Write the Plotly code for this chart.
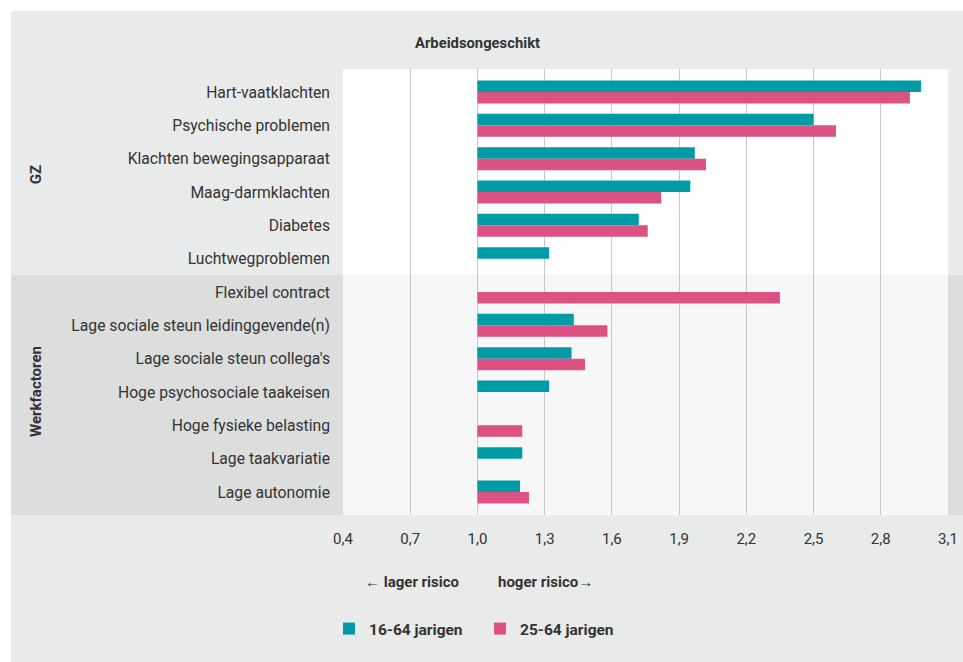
import plotly.graph_objects as go

gz_labels = [
    "Hart-vaatklachten",
    "Psychische problemen",
    "Klachten bewegingsapparaat",
    "Maag-darmklachten",
    "Diabetes",
    "Luchtwegproblemen",
]
werk_labels = [
    "Flexibel contract",
    "Lage sociale steun leidinggevende(n)",
    "Lage sociale steun collega's",
    "Hoge psychosociale taakeisen",
    "Hoge fysieke belasting",
    "Lage taakvariatie",
    "Lage autonomie",
]
categories = gz_labels + werk_labels

# odds ratios, None = not significant / not shown
risk_16_64 = [2.98, 2.50, 1.97, 1.95, 1.72, 1.32,
              None, 1.43, 1.42, 1.32, None, 1.20, 1.19]
risk_25_64 = [2.93, 2.60, 2.02, 1.82, 1.76, None,
              2.35, 1.58, 1.48, None, 1.20, None, 1.23]

tick_values = [0.4, 0.7, 1.0, 1.3, 1.6, 1.9, 2.2, 2.5, 2.8, 3.1]
series_names = ["16-64 jarigen", "25-64 jarigen"]
reference_value = 1.0

TEAL = "#009ca6"
PINK = "#dc5283"
TEXT = "#333333"
FONT = "Roboto, Arial, sans-serif"

W, H = 963, 662
L, R, T, B = 343, 15, 69, 147
PW, PH = W - L - R, H - T - B


def px_x(px):
    return (px - L) / PW


def px_y(py):
    return 1 - (py - T) / PH


def lengths(vals):
    return [None if v is None else v - reference_value for v in vals]


fig = go.Figure()
for name, vals, color in [(series_names[0], risk_16_64, TEAL), (series_names[1], risk_25_64, PINK)]:
    fig.add_trace(go.Bar(
        y=categories,
        x=lengths(vals),
        base=reference_value,
        orientation="h",
        name=name,
        marker=dict(color=color, line_width=0),
        hovertemplate="%{y}: %{customdata}<extra>" + name + "</extra>",
        customdata=vals,
    ))

pad = 0.19
y_top = -0.5 - pad
y_bottom = len(categories) - 0.5 + pad
split = len(gz_labels) - 0.5

shapes = [
    # outer grey panel
    dict(type="rect", xref="paper", yref="paper", x0=px_x(11), x1=px_x(W + 5), y0=px_y(H + 5), y1=px_y(11),
         fillcolor="#e9eaea", line_width=0, layer="below"),
    # GZ plot area
    dict(type="rect", xref="paper", yref="y", x0=0, x1=1, y0=y_top, y1=split,
         fillcolor="#ffffff", line_width=0, layer="below"),
    # Werkfactoren band
    dict(type="rect", xref="paper", yref="y", x0=px_x(11), x1=px_x(W + 5), y0=split, y1=y_bottom,
         fillcolor="#dcdddd", line_width=0, layer="below"),
    dict(type="rect", xref="paper", yref="y", x0=0, x1=1, y0=split, y1=y_bottom,
         fillcolor="#f7f7f7", line_width=0, layer="below"),
]

annotations = [
    dict(text="<b>Arbeidsongeschikt</b>", xref="x", yref="paper", x=reference_value, y=px_y(43),
         xanchor="center", yanchor="middle", showarrow=False, font=dict(size=14.8, color=TEXT)),
    dict(text="<b>GZ</b>", xref="paper", yref="y", x=px_x(36), y=(len(gz_labels) - 1) / 2,
         xanchor="center", yanchor="middle", textangle=-90, showarrow=False,
         font=dict(size=15, color=TEXT)),
    dict(text="<b>Werkfactoren</b>", xref="paper", yref="y", x=px_x(36),
         y=len(gz_labels) + (len(werk_labels) - 1) / 2,
         xanchor="center", yanchor="middle", textangle=-90, showarrow=False,
         font=dict(size=15, color=TEXT)),
    dict(text="<b>← lager risico</b>", xref="paper", yref="paper", x=px_x(461), y=px_y(582),
         xanchor="right", yanchor="middle", showarrow=False, font=dict(size=15, color=TEXT)),
    dict(text="<b>hoger risico→</b>", xref="paper", yref="paper", x=px_x(496), y=px_y(582),
         xanchor="left", yanchor="middle", showarrow=False, font=dict(size=15, color=TEXT)),
]

fig.update_layout(
    width=W,
    height=H,
    margin=dict(l=L, r=R, t=T, b=B, autoexpand=False),
    paper_bgcolor="#ffffff",
    plot_bgcolor="rgba(0,0,0,0)",
    separators=",.",
    barmode="group",
    bargap=0.31,
    bargroupgap=0,
    font=dict(family=FONT, color=TEXT, size=15),
    shapes=shapes,
    annotations=annotations,
    showlegend=True,
    legend=dict(
        orientation="h",
        x=px_x(329), y=px_y(629), xanchor="left", yanchor="middle",
        bgcolor="rgba(0,0,0,0)",
        font=dict(size=15.5, color=TEXT, weight="bold"),
        entrywidth=106,
        traceorder="normal",
    ),
)
fig.update_xaxes(
    range=[tick_values[0], tick_values[-1]],
    tickvals=tick_values,
    tickformat=".1f",
    showgrid=True,
    gridcolor="#c8c8c8",
    gridwidth=1,
    zeroline=False,
    showline=False,
    ticks="outside",
    ticklen=10,
    tickcolor="rgba(0,0,0,0)",
    automargin=False,
    tickfont=dict(size=15, color=TEXT),
)
fig.update_yaxes(
    range=[y_bottom, y_top],
    showgrid=False,
    zeroline=False,
    ticks="",
    automargin=False,
    ticklabelstandoff=12,
    tickfont=dict(size=15.7, color=TEXT),
)

# drop the default body margin so the page is exactly the figure
fig.write_html(
    "out.html",
    config={"displayModeBar": False},
    post_script="document.body.style.margin='0';",
)
